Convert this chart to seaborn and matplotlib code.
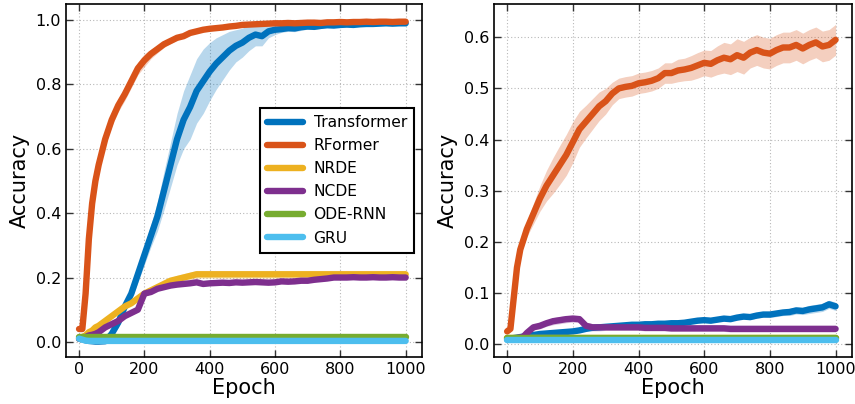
import numpy as np
import pandas as pd
import matplotlib
matplotlib.use("Agg")
import matplotlib.pyplot as plt
import seaborn as sns

sns.set_theme(style="ticks")
plt.rcParams["font.family"] = ["DejaVu Sans"]
plt.rcParams["text.color"] = "black"
plt.rcParams["axes.labelcolor"] = "black"
plt.rcParams["xtick.color"] = "black"
plt.rcParams["ytick.color"] = "black"

epochs = [0, 10, 20, 30, 40, 50, 60, 80, 100, 120, 140, 160, 180, 200, 220, 240,
          260, 280, 300, 320, 340, 360, 380, 400, 420, 440, 460, 480, 500, 520,
          540, 560, 580, 600, 620, 640, 660, 680, 700, 720, 740, 760, 780, 800,
          820, 840, 860, 880, 900, 920, 940, 960, 980, 1000]

models = ["Transformer", "RFormer", "NRDE", "NCDE", "ODE-RNN", "GRU"]
colors = ["#0072BD", "#D95319", "#EDB120", "#7E2F8E", "#77AC30", "#4DBEEE"]

# ---- left panel (means, std) ----
left_transformer = [0.010, 0.008, 0.005, 0.003, 0.002, 0.001, 0.001, 0.002, 0.025, 0.060,
                    0.110, 0.150, 0.210, 0.270, 0.330, 0.390, 0.470, 0.550, 0.630, 0.690,
                    0.730, 0.780, 0.810, 0.840, 0.865, 0.885, 0.905, 0.920, 0.930, 0.945,
                    0.955, 0.950, 0.965, 0.970, 0.972, 0.975, 0.974, 0.978, 0.980, 0.979,
                    0.982, 0.984, 0.983, 0.985, 0.986, 0.985, 0.987, 0.988, 0.988, 0.989,
                    0.990, 0.989, 0.990, 0.990]
left_transformer_sd = [0.005, 0.005, 0.005, 0.005, 0.005, 0.005, 0.005, 0.005, 0.010, 0.015,
                       0.020, 0.020, 0.025, 0.030, 0.035, 0.045, 0.060, 0.070, 0.080, 0.090,
                       0.100, 0.100, 0.100, 0.090, 0.080, 0.070, 0.060, 0.050, 0.045, 0.040,
                       0.035, 0.030, 0.020, 0.015, 0.010, 0.010, 0.010, 0.010, 0.008, 0.008,
                       0.008, 0.006, 0.006, 0.006, 0.005, 0.005, 0.005, 0.005, 0.005, 0.005,
                       0.005, 0.005, 0.005, 0.005]
left_rformer = [0.040, 0.040, 0.150, 0.320, 0.430, 0.500, 0.550, 0.630, 0.690, 0.735,
                0.770, 0.810, 0.850, 0.875, 0.895, 0.910, 0.925, 0.935, 0.945, 0.950,
                0.960, 0.965, 0.970, 0.973, 0.975, 0.977, 0.980, 0.982, 0.985, 0.986,
                0.987, 0.988, 0.989, 0.990, 0.990, 0.991, 0.990, 0.991, 0.992, 0.992,
                0.991, 0.993, 0.993, 0.994, 0.993, 0.994, 0.994, 0.995, 0.994, 0.995,
                0.995, 0.994, 0.995, 0.995]
left_rformer_sd = [0.005, 0.005, 0.010, 0.015, 0.015, 0.015, 0.015, 0.020, 0.020, 0.020,
                   0.020, 0.020, 0.020, 0.020, 0.015, 0.012, 0.010, 0.008, 0.007, 0.006,
                   0.005, 0.005, 0.005, 0.005, 0.005, 0.005, 0.005, 0.005, 0.005, 0.005,
                   0.005, 0.005, 0.005, 0.005, 0.005, 0.005, 0.005, 0.005, 0.005, 0.005,
                   0.005, 0.005, 0.005, 0.005, 0.005, 0.005, 0.005, 0.005, 0.005, 0.005,
                   0.005, 0.005, 0.005, 0.005]
left_nrde = [0.010, 0.015, 0.020, 0.030, 0.035, 0.045, 0.050, 0.065, 0.080, 0.095,
             0.110, 0.120, 0.135, 0.150, 0.160, 0.170, 0.180, 0.190, 0.195, 0.200,
             0.205, 0.210, 0.210, 0.210, 0.210, 0.210, 0.210, 0.210, 0.210, 0.210,
             0.210, 0.210, 0.210, 0.210, 0.210, 0.210, 0.210, 0.210, 0.210, 0.210,
             0.210, 0.210, 0.210, 0.210, 0.210, 0.210, 0.210, 0.210, 0.210, 0.210,
             0.210, 0.210, 0.210, 0.210]
left_nrde_sd = [0.003, 0.004, 0.005, 0.005, 0.006, 0.006, 0.006, 0.006, 0.006, 0.006,
                0.006, 0.006, 0.006, 0.006, 0.008, 0.008, 0.010, 0.010, 0.012, 0.012,
                0.012, 0.012, 0.012, 0.012, 0.012, 0.012, 0.012, 0.012, 0.012, 0.012,
                0.012, 0.012, 0.012, 0.012, 0.012, 0.012, 0.012, 0.012, 0.012, 0.012,
                0.012, 0.012, 0.012, 0.012, 0.012, 0.012, 0.012, 0.012, 0.012, 0.012,
                0.012, 0.012, 0.012, 0.012]
left_ncde = [0.010, 0.012, 0.015, 0.020, 0.022, 0.025, 0.030, 0.045, 0.055, 0.065,
             0.080, 0.090, 0.100, 0.150, 0.155, 0.165, 0.170, 0.175, 0.178, 0.180,
             0.182, 0.185, 0.180, 0.182, 0.183, 0.184, 0.183, 0.185, 0.184, 0.185,
             0.186, 0.185, 0.184, 0.185, 0.188, 0.187, 0.188, 0.190, 0.190, 0.193,
             0.195, 0.197, 0.200, 0.200, 0.200, 0.201, 0.200, 0.200, 0.201, 0.200,
             0.200, 0.201, 0.200, 0.200]
left_ncde_sd = [0.003, 0.003, 0.004, 0.004, 0.005, 0.005, 0.005, 0.005, 0.005, 0.005,
                0.005, 0.005, 0.005, 0.006, 0.006, 0.006, 0.006, 0.006, 0.006, 0.006,
                0.006, 0.006, 0.006, 0.006, 0.006, 0.006, 0.006, 0.006, 0.006, 0.006,
                0.006, 0.006, 0.006, 0.006, 0.006, 0.006, 0.006, 0.006, 0.006, 0.006,
                0.006, 0.006, 0.006, 0.006, 0.006, 0.006, 0.006, 0.006, 0.006, 0.006,
                0.006, 0.006, 0.006, 0.006]
left_odernn = [0.014] * len(epochs)
left_gru = [0.010, 0.007, 0.004, 0.003] + [0.003] * (len(epochs) - 4)

# ---- right panel (means, std) ----
right_transformer = [0.010, 0.011, 0.012, 0.013, 0.014, 0.015, 0.016, 0.018, 0.020, 0.021,
                     0.022, 0.023, 0.024, 0.025, 0.027, 0.030, 0.032, 0.033, 0.034, 0.035,
                     0.036, 0.037, 0.038, 0.038, 0.039, 0.039, 0.040, 0.040, 0.041, 0.041,
                     0.042, 0.044, 0.046, 0.047, 0.046, 0.048, 0.050, 0.049, 0.052, 0.054,
                     0.053, 0.056, 0.058, 0.058, 0.060, 0.062, 0.063, 0.066, 0.065, 0.068,
                     0.070, 0.072, 0.078, 0.074]
right_transformer_sd = [0.002, 0.002, 0.002, 0.002, 0.002, 0.002, 0.002, 0.002, 0.003, 0.003,
                        0.003, 0.003, 0.003, 0.003, 0.003, 0.003, 0.003, 0.003, 0.003, 0.003,
                        0.003, 0.003, 0.003, 0.003, 0.003, 0.003, 0.003, 0.003, 0.003, 0.003,
                        0.003, 0.003, 0.003, 0.004, 0.004, 0.004, 0.004, 0.004, 0.004, 0.005,
                        0.005, 0.005, 0.005, 0.006, 0.006, 0.006, 0.007, 0.007, 0.007, 0.008,
                        0.008, 0.008, 0.008, 0.008]
right_rformer = [0.025, 0.030, 0.090, 0.150, 0.185, 0.205, 0.225, 0.255, 0.285, 0.310,
                 0.330, 0.350, 0.370, 0.395, 0.420, 0.435, 0.450, 0.465, 0.475, 0.490,
                 0.500, 0.503, 0.505, 0.510, 0.512, 0.515, 0.520, 0.530, 0.530, 0.535,
                 0.537, 0.540, 0.545, 0.550, 0.548, 0.555, 0.560, 0.557, 0.565, 0.560,
                 0.570, 0.575, 0.570, 0.568, 0.575, 0.580, 0.580, 0.585, 0.578, 0.585,
                 0.590, 0.582, 0.585, 0.595]
right_rformer_sd = [0.005, 0.005, 0.008, 0.010, 0.012, 0.013, 0.015, 0.020, 0.025, 0.030,
                    0.035, 0.038, 0.040, 0.040, 0.035, 0.032, 0.030, 0.028, 0.025, 0.022,
                    0.020, 0.020, 0.020, 0.020, 0.020, 0.020, 0.020, 0.020, 0.020, 0.022,
                    0.022, 0.024, 0.025, 0.025, 0.026, 0.028, 0.030, 0.030, 0.032, 0.032,
                    0.030, 0.030, 0.030, 0.030, 0.030, 0.030, 0.030, 0.030, 0.030, 0.030,
                    0.030, 0.030, 0.030, 0.030]
right_nrde = [0.012] * len(epochs)
right_ncde = [0.010, 0.010, 0.011, 0.012, 0.013, 0.015, 0.022, 0.033, 0.036, 0.041,
              0.045, 0.047, 0.049, 0.050, 0.049, 0.036, 0.033, 0.033, 0.033, 0.033,
              0.033, 0.033, 0.033, 0.033, 0.032, 0.032, 0.032, 0.032, 0.031, 0.031,
              0.031, 0.031, 0.031, 0.031, 0.031, 0.031, 0.031, 0.030, 0.030, 0.030,
              0.030, 0.030, 0.030, 0.030, 0.030, 0.030, 0.030, 0.030, 0.030, 0.030,
              0.030, 0.030, 0.030, 0.030]
right_ncde_sd = [0.002, 0.002, 0.002, 0.002, 0.002, 0.003, 0.004, 0.005, 0.006, 0.006,
                 0.007, 0.007, 0.007, 0.007, 0.007, 0.007, 0.007, 0.007, 0.006, 0.006,
                 0.006, 0.006, 0.006, 0.006, 0.006, 0.006, 0.006, 0.006, 0.006, 0.006,
                 0.006, 0.006, 0.006, 0.006, 0.006, 0.006, 0.006, 0.006, 0.006, 0.006,
                 0.006, 0.006, 0.006, 0.006, 0.006, 0.006, 0.006, 0.006, 0.006, 0.006,
                 0.006, 0.006, 0.006, 0.006]
right_odernn = [0.012] * len(epochs)
right_gru = [0.009] * len(epochs)

zero = [0.0] * len(epochs)
left_means = [left_transformer, left_rformer, left_nrde, left_ncde, left_odernn, left_gru]
left_sds = [left_transformer_sd, left_rformer_sd, left_nrde_sd, left_ncde_sd, zero, zero]
right_means = [right_transformer, right_rformer, right_nrde, right_ncde, right_odernn, right_gru]
right_sds = [right_transformer_sd, right_rformer_sd, zero, right_ncde_sd, zero, zero]


def to_frame(means, sds):
    rows = []
    for name, m, s in zip(models, means, sds):
        rows.append(pd.DataFrame({"Epoch": epochs, "Accuracy": m, "sd": s, "Model": name}))
    return pd.concat(rows, ignore_index=True)


fig = plt.figure(figsize=(8.55, 4.04), dpi=100)
ax1 = fig.add_axes([66 / 855, 47 / 404, 356 / 855, 353 / 404])
ax2 = fig.add_axes([494 / 855, 47 / 404, 358 / 855, 353 / 404])
palette = dict(zip(models, colors))

for ax, means, sds in [(ax1, left_means, left_sds), (ax2, right_means, right_sds)]:
    df = to_frame(means, sds)
    for name in models:
        d = df[df["Model"] == name]
        if d["sd"].max() > 0:
            ax.fill_between(d["Epoch"], d["Accuracy"] - d["sd"], d["Accuracy"] + d["sd"],
                            color=palette[name], alpha=0.28, linewidth=0, zorder=1)
    sns.lineplot(data=df, x="Epoch", y="Accuracy", hue="Model", hue_order=models,
                 palette=palette, linewidth=4.6, ax=ax, legend=(ax is ax1), zorder=2)

    ax.grid(True, linestyle=(0, (1, 2)), color="#b8b8b8", linewidth=0.8)
    ax.tick_params(direction="in", top=True, right=True, length=5, width=1,
                   labelsize=11.5, color="#333333")
    for sp in ax.spines.values():
        sp.set_linewidth(1.2)
        sp.set_color("black")
    ax.set_xlabel("Epoch", fontsize=15, labelpad=1)
    ax.set_ylabel("Accuracy", fontsize=15, labelpad=4)
    ax.set_xticks([0, 200, 400, 600, 800, 1000])
    ax.set_xlim(-40, 1050)

ax1.set_ylim(-0.047, 1.05)
ax1.set_yticks([0.0, 0.2, 0.4, 0.6, 0.8, 1.0])
ax2.set_ylim(-0.025, 0.665)
ax2.set_yticks([0.0, 0.1, 0.2, 0.3, 0.4, 0.5, 0.6])

leg = ax1.legend(loc="upper right", bbox_to_anchor=(0.977, 0.705), borderaxespad=0,
                 fontsize=11.2, handlelength=2.3, handletextpad=0.7, labelspacing=0.52,
                 borderpad=0.45, fancybox=False, edgecolor="black", framealpha=1)
leg.get_frame().set_linewidth(1.5)
for line in leg.get_lines():
    line.set_linewidth(4.6)

fig.savefig("out.png", dpi=100)
